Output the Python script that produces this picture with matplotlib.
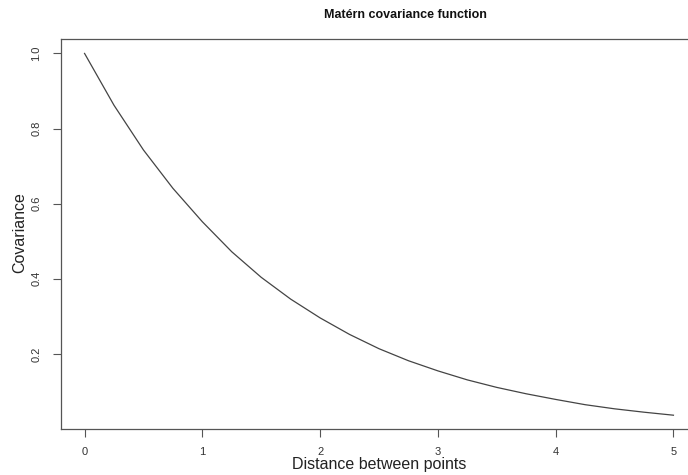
# Matern covariance curve, redrawn in R base-graphics style

import matplotlib
matplotlib.use('Agg')
import matplotlib.pyplot as plt

# Values (every 0.25 units of distance)
distance = [0, 0.25, 0.5, 0.75, 1.0, 1.25, 1.5, 1.75, 2.0, 2.25, 2.5,
            2.75, 3.0, 3.25, 3.5, 3.75, 4.0, 4.25, 4.5, 4.75, 5.0]
covariance = [1.0, 0.862, 0.743, 0.641, 0.552, 0.472, 0.404, 0.346, 0.296, 0.252, 0.214,
              0.182, 0.155, 0.131, 0.111, 0.094, 0.079, 0.065, 0.054, 0.045, 0.037]

x_ticks = [0, 1, 2, 3, 4, 5]
y_ticks = [0.2, 0.4, 0.6, 0.8, 1.0]

plt.rcParams['font.family'] = ['Liberation Sans', 'DejaVu Sans']

W, H = 688, 475
fig = plt.figure(figsize=(W / 100, H / 100), dpi=100)

# plot region in pixels (right edge runs past the image, as in the reference)
left, right, top, bottom = 61, 697, 39, 428.5
ax = fig.add_axes([left / W, (H - bottom) / H, (right - left) / W, (bottom - top) / H])

ax.plot(distance, covariance, color='#444444', lw=0.9)

ax.set_xlim(-0.2, 5.2)
ax.set_ylim(0.0016, 1.0384)
ax.set_xticks(x_ticks)
ax.set_xticklabels([str(t) for t in x_ticks])
ax.set_yticks(y_ticks)
ax.set_yticklabels(['%.1f' % t for t in y_ticks], rotation=90, va='center')

for s in ax.spines.values():
    s.set_color('#555555')
    s.set_linewidth(0.9)

ax.tick_params(direction='out', length=6, width=0.8, colors='#555555',
               labelcolor='#333333', labelsize=8)
ax.tick_params(axis='x', pad=7)
ax.tick_params(axis='y', pad=8)

fig.text(405 / W, 1 - 15 / H, 'Matérn covariance function', ha='center', va='center',
         fontsize=9, fontweight='bold', color='#111111')
fig.text(379 / W, 1 - 465 / H, 'Distance between points', ha='center', va='center',
         fontsize=11.5, color='#222222')
fig.text(20 / W, 1 - 233 / H, 'Covariance', ha='center', va='center', rotation=90,
         fontsize=11.5, color='#222222')

fig.savefig('out.png', dpi=100)
plt.close()
